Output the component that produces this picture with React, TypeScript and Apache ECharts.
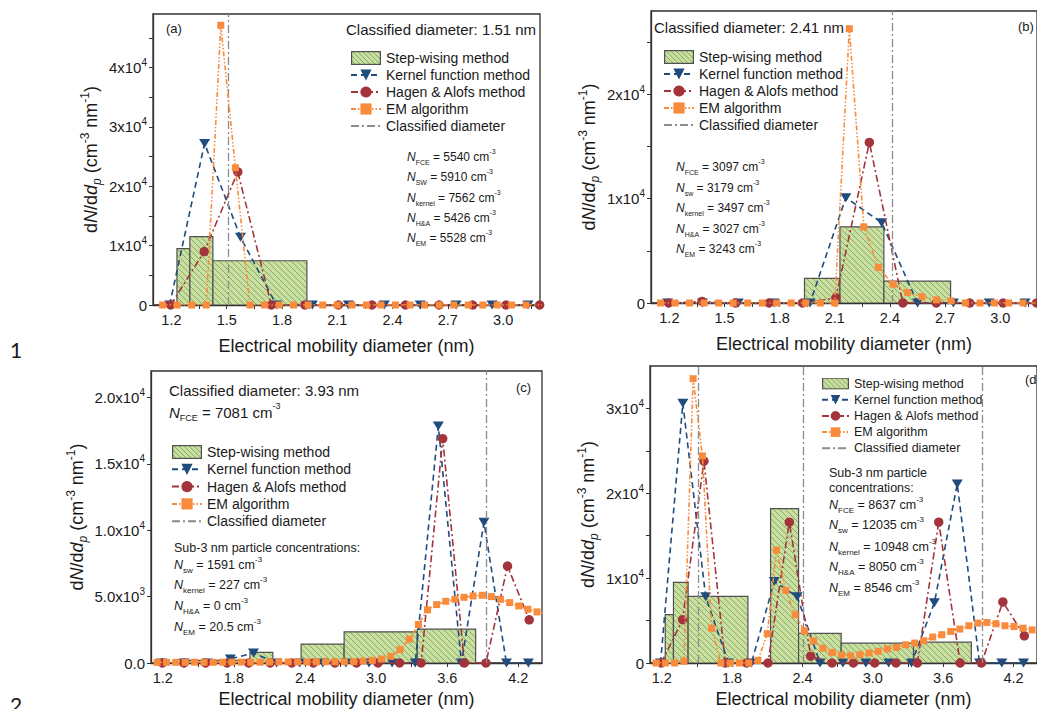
import React, { useEffect, useRef } from "react";
import * as echarts from "echarts";

const FONT = "'Liberation Sans', Arial, Helvetica, sans-serif";

// ---------- tick labels ----------
const X_LABELS_AB = [1.2, 1.5, 1.8, 2.1, 2.4, 2.7, 3.0];
const X_TICKS_AB = [1.2, 1.35, 1.5, 1.65, 1.8, 1.95, 2.1, 2.25, 2.4, 2.55, 2.7, 2.85, 3.0, 3.15];
const X_LABELS_CD = [1.2, 1.8, 2.4, 3.0, 3.6, 4.2];
const X_TICKS_CD = [1.2, 1.5, 1.8, 2.1, 2.4, 2.7, 3.0, 3.3, 3.6, 3.9, 4.2];
const Y_LABELS_A = [0, 10000, 20000, 30000, 40000];
const Y_TICKS_A = [0, 5000, 10000, 15000, 20000, 25000, 30000, 35000, 40000, 45000];
const Y_LABELS_B = [0, 10000, 20000];
const Y_TICKS_B = [0, 5000, 10000, 15000, 20000, 25000];
const Y_LABELS_C = [0, 5000, 10000, 15000, 20000];
const Y_LABELS_D = [0, 10000, 20000, 30000];
const Y_TICKS_D = [0, 5000, 10000, 15000, 20000, 25000, 30000];

// ---------- step-wising method (bin edges, heights per panel) ----------
const STEP_EDGES = [1.23, 1.3, 1.425, 1.935, 2.128, 2.367, 2.73, 3.347, 3.84];
const STEP_A = [9500, 11500, 7450, 0, 0, 0, 0, 0];
const STEP_B = [0, 0, 0, 2360, 7300, 2100, 0, 0];
const STEP_C = [0, 0, 200, 800, 0, 1425, 2350, 2550];
const STEP_D = [5700, 9500, 7850, 0, 18200, 3500, 2350, 2450];

// ---------- kernel function method ----------
const KERNEL_D = [1.19, 1.38, 1.575, 1.77, 1.965, 2.16, 2.355, 2.55, 2.745, 2.94, 3.135, 3.33, 3.525, 3.72, 3.91, 4.1, 4.285];
const KERNEL_A = [0, 27200, 11400, 0, 0, 0, 0, 0, 0, 0, 0, 0, 0, 0, 0, 0, 0];
const KERNEL_B = [0, 0, 0, 0, 0, 10100, 7700, 0, 0, 0, 0, 0, 0, 0, 0, 0, 0];
const KERNEL_C = [0, 0, 0, 300, 750, 0, 0, 0, 0, 0, 0, 0, 17850, 0, 10600, 0, 0];
const KERNEL_DD = [0, 30600, 7800, 0, 0, 9600, 7800, 0, 0, 0, 0, 0, 7100, 21100, 0, 0, 0];

// ---------- Hagen & Alofs method ----------
const HA_D = [1.196, 1.378, 1.56, 1.742, 1.924, 2.106, 2.288, 2.47, 2.652, 2.834, 3.016, 3.198, 3.38, 3.562, 3.745, 3.927, 4.109, 4.292];
const HA_A = [0, 9000, 22400, 0, 0, 0, 0, 0, 0, 0, 0, 0, 0, 0, 0, 0, 0, 0];
const HA_B = [0, 150, 0, 0, 0, 500, 15400, 0, 0, 0, 0, 0, 0, 0, 0, 0, 0, 0];
const HA_C = [0, 0, 0, 0, 0, 0, 0, 0, 0, 0, 0, 0, 0, 16900, 0, 0, 7300, 3250];
const HA_DD = [0, 5100, 23800, 0, 0, 0, 16600, 800, 0, 0, 0, 0, 0, 16600, 0, 0, 7200, 3200];

// ---------- EM algorithm ----------
const EM_D = [1.152, 1.231, 1.31, 1.389, 1.468, 1.547, 1.626, 1.705, 1.784, 1.863, 1.942, 2.021, 2.1, 2.179, 2.258, 2.337, 2.416, 2.495, 2.574, 2.653, 2.732, 2.811, 2.89, 2.968, 3.046, 3.124, 3.202, 3.28, 3.357, 3.434, 3.511, 3.588, 3.665, 3.742, 3.819, 3.896, 3.973, 4.05, 4.127, 4.204, 4.281, 4.358, 4.435];
const EM_A = [0, 0, 0, 0, 47100, 23100, 0, 0, 0, 0, 0, 0, 0, 0, 0, 0, 0, 0, 0, 0, 0, 0, 0, 0, 0, 0, 0, 0, 0, 0, 0, 0, 0, 0, 0, 0, 0, 0, 0, 0, 0, 0, 0];
const EM_B = [0, 0, 0, 0, 0, 0, 0, 0, 0, 0, 0, 0, 0, 26300, 7300, 3400, 1800, 1000, 600, 300, 200, 0, 0, 0, 0, 0, 0, 0, 0, 0, 0, 0, 0, 0, 0, 0, 0, 0, 0, 0, 0, 0, 0];
const EM_C = [50, 50, 50, 50, 60, 50, 50, 60, 70, 70, 60, 60, 70, 80, 80, 80, 80, 80, 90, 90, 90, 100, 150, 200, 300, 500, 1000, 1800, 2900, 4000, 4400, 4650, 4800, 4950, 5050, 5100, 5000, 4800, 4550, 4300, 4050, 3850, 3700];
const EM_DD = [0, 0, 0, 200, 33500, 24400, 4100, 0, 0, 0, 0, 300, 3450, 13300, 8550, 5700, 3800, 2600, 1750, 1250, 940, 860, 980, 1180, 1370, 1650, 1840, 2150, 2350, 2620, 3060, 3330, 3720, 4000, 4390, 4700, 4780, 4620, 4390, 4300, 4100, 3900, 3800];

// ---------- classified diameters ----------
const CD_A = [1.51];
const CD_B = [2.41];
const CD_C = [3.93];
const CD_DD = [1.51, 2.41, 3.93];

// ---------- annotation values ----------
const CONC_A = [["FCE", "5540"], ["SW", "5910"], ["kernel", "7562"], ["H&A", "5426"], ["EM", "5528"]];
const CONC_B = [["FCE", "3097"], ["sw", "3179"], ["kernel", "3497"], ["H&A", "3027"], ["EM", "3243"]];
const CONC_C = [["sw", "1591"], ["kernel", "227"], ["H&A", "0"], ["EM", "20.5"]];
const CONC_D = [["FCE", "8637"], ["sw", "12035"], ["kernel", "10948"], ["H&A", "8050"], ["EM", "8546"]];

// ---------- styles ----------
const GREEN = "#c9df9f";
const HATCH = "#88aa6a";
const EDGE = "#505050";
const AX = "#333333";
const TXT = "#1a1a1a";
const C_KERNEL = "#1f4b7d";
const C_HA = "#a3343c";
const C_EM = "#f98b3d";
const C_CD = "#8c8c8c";

const LEGEND_NAMES = ["Step-wising method", "Kernel function method", "Hagen & Alofs method", "EM algorithm", "Classified diameter"];

function hatchIcon(w: number, h: number) {
  let d = "";
  for (let c = -h; c < w + h; c += 5) d += `M${c} 0L${c + h} ${h}`;
  const svg = `<svg xmlns="http://www.w3.org/2000/svg" width="${w}" height="${h}" viewBox="0 0 ${w} ${h}"><rect x="0" y="0" width="${w}" height="${h}" fill="${GREEN}"/><path d="${d}" stroke="${HATCH}" stroke-width="1" fill="none"/><rect x="0.6" y="0.6" width="${w - 1.2}" height="${h - 1.2}" fill="none" stroke="${EDGE}" stroke-width="1.2"/></svg>`;
  return "image://data:image/svg+xml;charset=utf-8," + encodeURIComponent(svg);
}

const stepRender = (_params: any, api: any) => {
  const h = api.value(2);
  if (!h) return { type: "group", children: [] };
  const a = api.coord([api.value(0), h]);
  const b = api.coord([api.value(1), 0]);
  const L = a[0], T = a[1], R = b[0], B = b[1];
  const children: any[] = [
    { type: "rect", shape: { x: L, y: T, width: R - L, height: B - T }, style: { fill: GREEN } },
  ];
  const step = 6;
  for (let c = Math.floor((T - R) / step) * step; c <= B - L; c += step) {
    const xs = Math.max(L, T - c);
    const xe = Math.min(R, B - c);
    if (xe - xs > 0.3) {
      children.push({ type: "line", shape: { x1: xs, y1: xs + c, x2: xe, y2: xe + c }, style: { stroke: HATCH, lineWidth: 1 } });
    }
  }
  children.push({ type: "rect", shape: { x: L, y: T, width: R - L, height: B - T }, style: { fill: "none", stroke: EDGE, lineWidth: 1.2 } });
  return { type: "group", children };
};

const richFor = (fs: number) => ({
  n: { fontSize: fs, fontFamily: FONT, color: TXT, lineHeight: fs + 6 },
  i: { fontSize: fs, fontFamily: FONT, color: TXT, fontStyle: "italic", lineHeight: fs + 6 },
  sb: { fontSize: Math.round(fs * 0.62), fontFamily: FONT, color: TXT, verticalAlign: "bottom" },
  sp: { fontSize: Math.round(fs * 0.62), fontFamily: FONT, color: TXT, verticalAlign: "top" },
});

const txt = (x: number, y: number, text: string, fs: number, family = FONT) => ({
  type: "text",
  x,
  y,
  silent: true,
  style: { text, rich: richFor(fs), fontSize: fs, fontFamily: family, fill: TXT, align: "left", verticalAlign: "middle" },
});

const concText = (c: string[]) => `{i|N}{sb|${c[0]}}{n| = ${c[1]} cm}{sp|-3}`;

const yFmtInt = (v: number) => (v === 0 ? "{m|0}" : `{m|${Math.round(v / 10000)}x10}{s|4}`);
const yFmtDec = (v: number) => {
  if (v === 0) return "{m|0.0}";
  if (v < 10000) return `{m|${(v / 1000).toFixed(1)}x10}{s|3}`;
  return `{m|${(v / 10000).toFixed(1)}x10}{s|4}`;
};

const Y_NAME = "{n|d}{i|N}{n|/d}{i|d}{sb|p}{n| (cm}{sp|-3}{n| nm}{sp|-1}{n|)}";

const PANELS = [
  { grid: { left: 153, top: 14, width: 387, height: 291 }, xmax: 3.2, ymax: 49000, xl: X_LABELS_AB, xt: X_TICKS_AB, yl: Y_LABELS_A, yt: Y_TICKS_A, fmt: yFmtInt, ngx: 32, ngy: 50, step: STEP_A, kern: KERNEL_A, ha: HA_A, em: EM_A, cd: CD_A },
  { grid: { left: 651, top: 11, width: 390, height: 292 }, xmax: 3.2, ymax: 28000, xl: X_LABELS_AB, xt: X_TICKS_AB, yl: Y_LABELS_B, yt: Y_TICKS_B, fmt: yFmtInt, ngx: 32, ngy: 50, step: STEP_B, kern: KERNEL_B, ha: HA_B, em: EM_B, cd: CD_B },
  { grid: { left: 151, top: 371, width: 391, height: 293 }, xmax: 4.4, ymax: 22000, xl: X_LABELS_CD, xt: X_TICKS_CD, yl: Y_LABELS_C, yt: Y_LABELS_C, fmt: yFmtDec, ngx: 27, ngy: 62, step: STEP_C, kern: KERNEL_C, ha: HA_C, em: EM_C, cd: CD_C },
  { grid: { left: 650, top: 366, width: 402, height: 297 }, xmax: 4.4, ymax: 35000, xl: X_LABELS_CD, xt: X_TICKS_CD, yl: Y_LABELS_D, yt: Y_TICKS_D, fmt: yFmtInt, ngx: 27, ngy: 50, step: STEP_D, kern: KERNEL_DD, ha: HA_DD, em: EM_DD, cd: CD_DD },
];

const mkLegend = (left: number, top: number, iw: number, ih: number, gap: number, fs: number) => ({
  left,
  top,
  orient: "vertical",
  itemWidth: iw,
  itemHeight: ih,
  itemGap: gap,
  selectedMode: false,
  padding: 0,
  textStyle: { fontSize: fs, fontFamily: FONT, color: TXT },
  data: LEGEND_NAMES.map((n, i) => {
    if (i === 0) return { name: n, icon: hatchIcon(iw, ih) };
    if (i === 4) return { name: n, itemStyle: { opacity: 0 } };
    return { name: n };
  }),
});

function buildOption() {
  const grid: any[] = [];
  const xAxis: any[] = [];
  const yAxis: any[] = [];
  const series: any[] = [];
  PANELS.forEach((p, i) => {
    grid.push({ ...p.grid, show: true, borderColor: AX, borderWidth: 1.3, backgroundColor: "transparent" });
    xAxis.push({
      gridIndex: i,
      type: "value",
      min: 1.1,
      max: p.xmax,
      axisLine: { show: true, onZero: false, lineStyle: { color: AX, width: 1.3 } },
      axisTick: { show: true, length: 4, lineStyle: { color: AX, width: 1 }, customValues: p.xt },
      axisLabel: { customValues: p.xl, formatter: (v: number) => v.toFixed(1), fontSize: 14.5, fontFamily: FONT, color: TXT, margin: 7 },
      splitLine: { show: false },
      name: "Electrical mobility diameter (nm)",
      nameLocation: "middle",
      nameGap: p.ngx,
      nameTextStyle: { fontSize: 18, fontFamily: FONT, color: TXT },
    });
    yAxis.push({
      gridIndex: i,
      type: "value",
      min: 0,
      max: p.ymax,
      axisLine: { show: true, lineStyle: { color: AX, width: 1.3 } },
      axisTick: { show: true, length: 4, lineStyle: { color: AX, width: 1 }, customValues: p.yt },
      axisLabel: {
        customValues: p.yl,
        formatter: p.fmt,
        margin: 6,
        rich: {
          m: { fontSize: 15, fontFamily: FONT, color: TXT, lineHeight: 20 },
          s: { fontSize: 10, fontFamily: FONT, color: TXT, verticalAlign: "top" },
        },
      },
      splitLine: { show: false },
      name: Y_NAME,
      nameLocation: "middle",
      nameRotate: 90,
      nameGap: p.ngy,
      nameTextStyle: {
        rich: {
          n: { fontSize: 18, fontFamily: FONT, color: TXT, lineHeight: 24 },
          i: { fontSize: 18, fontFamily: FONT, color: TXT, fontStyle: "italic", lineHeight: 24 },
          sb: { fontSize: 12, fontFamily: FONT, color: TXT, fontStyle: "italic", verticalAlign: "bottom" },
          sp: { fontSize: 12, fontFamily: FONT, color: TXT, verticalAlign: "top" },
        },
      },
    });
    series.push({
      type: "custom",
      name: "Step-wising method",
      xAxisIndex: i,
      yAxisIndex: i,
      renderItem: stepRender,
      encode: { x: [0, 1], y: 2 },
      data: p.step.map((h, k) => [STEP_EDGES[k], STEP_EDGES[k + 1], h]),
      itemStyle: { color: GREEN },
      clip: true,
      z: 1,
    });
    series.push({
      type: "line",
      name: "Classified diameter",
      xAxisIndex: i,
      yAxisIndex: i,
      data: [],
      symbol: "none",
      itemStyle: { color: C_CD },
      lineStyle: { color: C_CD, width: 1.3, type: [8, 3, 2, 3] },
      markLine: {
        silent: true,
        symbol: ["none", "none"],
        label: { show: false },
        lineStyle: { color: C_CD, width: 1.3, type: [8, 3, 2, 3] },
        data: p.cd.map((x) => ({ xAxis: x })),
      },
      z: 2,
    });
    series.push({
      type: "line",
      name: "Kernel function method",
      xAxisIndex: i,
      yAxisIndex: i,
      data: KERNEL_D.map((x, k) => [x, p.kern[k]]),
      symbol: "triangle",
      symbolRotate: 180,
      symbolSize: [11, 9],
      itemStyle: { color: C_KERNEL },
      lineStyle: { color: C_KERNEL, width: 1.6, type: [6, 4] },
      clip: true,
      z: 3,
    });
    series.push({
      type: "line",
      name: "Hagen & Alofs method",
      xAxisIndex: i,
      yAxisIndex: i,
      data: HA_D.map((x, k) => [x, p.ha[k]]),
      symbol: "circle",
      symbolSize: 9.5,
      itemStyle: { color: C_HA },
      lineStyle: { color: C_HA, width: 1.6, type: [7, 3, 2, 3] },
      clip: true,
      z: 4,
    });
    series.push({
      type: "line",
      name: "EM algorithm",
      xAxisIndex: i,
      yAxisIndex: i,
      data: EM_D.map((x, k) => [x, p.em[k]]),
      symbol: "rect",
      symbolSize: 7,
      itemStyle: { color: C_EM },
      lineStyle: { color: C_EM, width: 1.6, type: [5, 2, 1.5, 2, 1.5, 2] },
      clip: true,
      z: 5,
    });
  });

  const graphic: any[] = [
    // panel (a)
    txt(166, 28, "{n|(a)}", 13),
    txt(346, 29.5, "{n|Classified diameter: 1.51 nm}", 15),
    ...CONC_A.map((c, k) => txt(407, [157, 177, 198, 218, 238][k], concText(c), 12)),
    // panel (b)
    txt(654, 27, "{n|Classified diameter: 2.41 nm}", 15),
    txt(1018, 26, "{n|(b)}", 13),
    ...CONC_B.map((c, k) => txt(676, [167, 188, 208, 229, 249][k], concText(c), 12)),
    // panel (c)
    txt(169, 390, "{n|Classified diameter: 3.93 nm}", 15),
    txt(169, 412, concText(["FCE", "7081"]), 15),
    txt(516, 387, "{n|(c)}", 13),
    txt(174, 548, "{n|Sub-3 nm particle concentrations:}", 12.5),
    ...CONC_C.map((c, k) => txt(174, [565, 585, 606, 627][k], concText(c), 12.5)),
    // panel (d)
    txt(1025, 379, "{n|(d)}", 13),
    txt(829, 473, "{n|Sub-3 nm particle}", 12.5),
    txt(829, 488, "{n|concentrations:}", 12.5),
    ...CONC_D.map((c, k) => txt(829, [505, 525, 547, 567, 588][k], concText(c), 12.5)),
    // page labels
    { type: "text", x: 10, y: 349, silent: true, style: { text: "1", fontSize: 21, fontFamily: "Lato, 'Open Sans', sans-serif", fill: TXT, verticalAlign: "middle" } },
    { type: "text", x: 10, y: 704, silent: true, style: { text: "2", fontSize: 21, fontFamily: "Lato, 'Open Sans', sans-serif", fill: TXT, verticalAlign: "middle" } },
  ];

  return {
    animation: false,
    backgroundColor: "#ffffff",
    grid,
    xAxis,
    yAxis,
    series,
    legend: [
      mkLegend(350, 51, 30, 14, 3, 14),
      mkLegend(663, 50, 30, 14, 3, 14),
      mkLegend(171, 445, 30, 14, 3.3, 14),
      mkLegend(821, 377, 27, 12, 3.2, 12.5),
    ],
    graphic,
  };
}

export default function App() {
  const ref = useRef<HTMLDivElement>(null);
  useEffect(() => {
    const chart = echarts.init(ref.current!, null, { renderer: "svg" });
    chart.setOption(buildOption() as any);
    return () => chart.dispose();
  }, []);
  return (
    <div
      ref={ref}
      style={{ position: "fixed", left: 0, top: 0, width: 1037, height: 709, background: "#ffffff" }}
    />
  );
}
